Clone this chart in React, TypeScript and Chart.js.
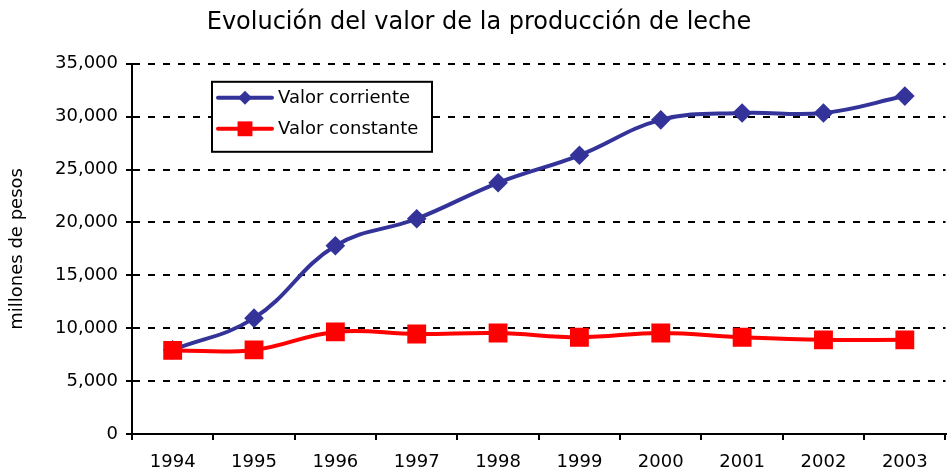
import React, { useEffect, useRef } from "react";
import { Chart, registerables } from "chart.js";

Chart.register(...registerables);

const years = ["1994", "1995", "1996", "1997", "1998", "1999", "2000", "2001", "2002", "2003"];
const valorCorriente = [7950, 10950, 17800, 20350, 23750, 26350, 29700, 30350, 30350, 31950];
const valorConstante = [7900, 7950, 9650, 9450, 9550, 9150, 9550, 9150, 8900, 8900];
const legendLabels = ["Valor corriente", "Valor constante"];
const chartTitle = "Evolución del valor de la producción de leche";
const yTitle = "millones de pesos";

const FONT = "'DejaVu Sans', Verdana, sans-serif";
const BLUE = "#333399";
const RED = "#FF0000";

function drawMarker(ctx: CanvasRenderingContext2D, style: string, x: number, y: number, r: number, color: string) {
  ctx.fillStyle = color;
  ctx.beginPath();
  if (style === "rectRot") {
    ctx.moveTo(x, y - r);
    ctx.lineTo(x + r, y);
    ctx.lineTo(x, y + r);
    ctx.lineTo(x - r, y);
    ctx.closePath();
  } else {
    const s = r * Math.SQRT1_2;
    ctx.rect(x - s, y - s, 2 * s, 2 * s);
  }
  ctx.fill();
}

const boxLegend = {
  id: "boxLegend",
  afterDraw(chart: any) {
    const ctx = chart.ctx as CanvasRenderingContext2D;
    const a = chart.chartArea;
    const x = a.left + 80;
    const y = a.top + 18;
    const w = 220;
    const h = 70;
    ctx.save();
    ctx.fillStyle = "#fff";
    ctx.fillRect(x, y, w, h);
    ctx.strokeStyle = "#000";
    ctx.lineWidth = 2;
    ctx.strokeRect(x, y, w, h);
    const items = [
      { label: legendLabels[0], color: BLUE, style: "rectRot", r: 7 },
      { label: legendLabels[1], color: RED, style: "rect", r: 10.5 },
    ];
    items.forEach((it, i) => {
      const ly = y + 16 + i * 31;
      ctx.strokeStyle = it.color;
      ctx.lineWidth = 4;
      ctx.lineCap = "round";
      ctx.beginPath();
      ctx.moveTo(x + 6, ly);
      ctx.lineTo(x + 60, ly);
      ctx.stroke();
      drawMarker(ctx, it.style, x + 33, ly, it.r, it.color);
      ctx.fillStyle = "#000";
      ctx.font = `18px ${FONT}`;
      ctx.textBaseline = "middle";
      ctx.textAlign = "left";
      ctx.fillText(it.label, x + 66, ly + 1);
    });
    ctx.restore();
  },
};

export default function App() {
  const ref = useRef<HTMLCanvasElement | null>(null);

  useEffect(() => {
    if (!ref.current) return;
    const chart = new Chart(ref.current, {
      type: "line",
      data: {
        labels: years,
        datasets: [
          {
            label: legendLabels[0],
            data: valorCorriente,
            borderColor: BLUE,
            backgroundColor: BLUE,
            borderWidth: 4,
            pointStyle: "rectRot",
            pointRadius: 7,
            pointHoverRadius: 7,
            tension: 0.4,
            order: 1,
          },
          {
            label: legendLabels[1],
            data: valorConstante,
            borderColor: RED,
            backgroundColor: RED,
            borderWidth: 4,
            pointStyle: "rect",
            pointRadius: 10.5,
            pointHoverRadius: 10.5,
            tension: 0.4,
            order: 0,
          },
        ],
      },
      options: {
        responsive: false,
        animation: false,
        layout: { padding: { left: 0, right: 2, top: 0, bottom: 0 } },
        plugins: {
          legend: { display: false },
          tooltip: { enabled: false },
          title: {
            display: true,
            text: chartTitle,
            color: "#000",
            font: { family: FONT, size: 24, weight: "normal", lineHeight: 1.2 },
            padding: { top: 8, bottom: 27 },
          },
        },
        scales: {
          x: {
            type: "category",
            offset: true,
            grid: {
              offset: true,
              drawOnChartArea: false,
              drawTicks: true,
              tickLength: 6,
              color: "#000",
              lineWidth: 2,
            },
            border: { color: "#000", width: 2 },
            ticks: {
              color: "#000",
              font: { family: FONT, size: 18 },
              padding: 12,
              maxRotation: 0,
              autoSkip: false,
            },
            afterFit(scale: any) {
              scale.height = 36;
            },
          },
          y: {
            min: 0,
            max: 35000,
            grid: {
              color: "#000",
              lineWidth: 2,
              tickLength: 6,
              tickBorderDash: [],
            },
            border: { color: "#000", width: 2, dash: [7, 8] },
            ticks: {
              stepSize: 5000,
              color: "#000",
              font: { family: FONT, size: 18 },
              padding: 8,
              callback: (v: any) => Number(v).toLocaleString("en-US"),
            },
            title: {
              display: true,
              text: yTitle,
              color: "#000",
              font: { family: FONT, size: 18 },
              padding: { top: 7, bottom: 0 },
            },
            afterFit(scale: any) {
              scale.width = 132;
            },
          },
        },
      },
      plugins: [boxLegend],
    });
    return () => chart.destroy();
  }, []);

  return (
    <div style={{ position: "fixed", left: 0, top: 0, width: 951, height: 470, overflow: "hidden", background: "#fff" }}>
      <canvas ref={ref} width={960} height={470} style={{ width: 960, height: 470, display: "block" }} />
    </div>
  );
}
